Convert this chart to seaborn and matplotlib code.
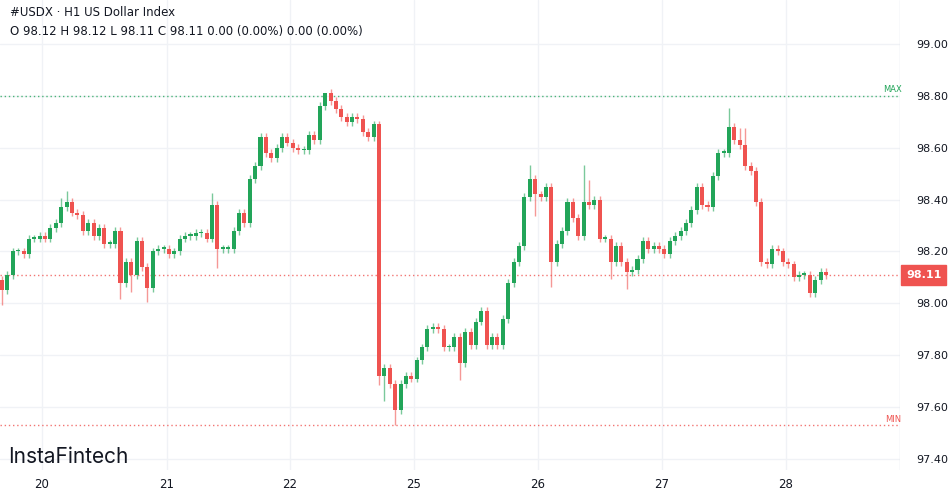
import numpy as np
import pandas as pd
import matplotlib
matplotlib.use("Agg")
import matplotlib.pyplot as plt
import seaborn as sns

closes = [98.05,98.11,98.20,98.20,98.19,98.25,98.25,98.26,98.25,98.29,98.31,98.37,98.39,98.35,98.34,98.28,98.31,98.26,98.29,98.23,
          98.23,98.28,98.08,98.16,98.11,98.24,98.14,98.06,98.20,98.21,98.21,98.19,98.20,98.25,98.26,98.26,98.27,98.27,98.25,98.38,
          98.21,98.21,98.21,98.28,98.35,98.31,98.48,98.53,98.64,98.58,98.56,98.60,98.64,98.62,98.60,98.59,98.59,98.65,98.63,98.76,
          98.81,98.78,98.75,98.72,98.70,98.72,98.71,98.66,98.64,98.69,97.72,
          97.75,97.69,97.59,97.69,97.72,97.71,
          97.78,97.83,97.90,97.91,97.90,97.83,97.83,97.87,97.77,97.89,97.84,97.93,97.97,97.84,97.87,97.84,97.94,98.08,98.16,98.22,
          98.41,98.48,98.42,
          98.41,98.45,98.16,98.23,98.28,98.39,98.33,98.26,98.39,98.38,98.40,98.25,98.25,98.16,98.22,98.16,98.12,98.13,98.17,98.24,
          98.21,98.22,98.21,98.19,98.24,98.26,98.28,98.31,98.36,98.45,98.38,98.37,98.49,98.58,98.58,98.68,98.63,98.61,98.53,98.51,
          98.39,98.16,98.15,98.21,98.20,98.16,98.15,98.10,98.11,98.11,98.04,98.09,98.12,98.11]
first_open = 98.09
# extra wick lengths for notable candles (index: (up, down))
wick_extra = {0: (0.0, 0.04), 11: (0.02, 0.0), 12: (0.03, 0.0), 22: (0.0, 0.05), 24: (0.0, 0.05), 27: (0.0, 0.04),
              39: (0.03, 0.0), 40: (0.0, 0.06), 70: (0.0, 0.02), 71: (0.0, 0.08), 73: (0.0, 0.06),
              85: (0.0, 0.05), 98: (0.04, 0.0), 99: (0.0, 0.07), 102: (0.0, 0.08), 108: (0.13, 0.0),
              109: (0.07, 0.0), 113: (0.0, 0.05), 116: (0.0, 0.05), 135: (0.06, 0.0), 137: (0.03, 0.0), 138: (0.05, 0.0)}
day_labels = ["20", "21", "22", "25", "26", "27", "28"]
day_px = [42, 167, 290, 414, 538, 662, 786]
yticks = [97.40, 97.60, 97.80, 98.00, 98.20, 98.40, 98.60, 98.80, 99.00]
max_price, min_price, last_price = 98.80, 97.53, 98.11

opens = [first_open] + closes[:-1]
highs, lows = [], []
for i, (o, c) in enumerate(zip(opens, closes)):
    up, dn = wick_extra.get(i, (0.0, 0.0))
    highs.append(max(o, c) + 0.015 + up)
    lows.append(min(o, c) - 0.015 - dn)
highs[60] = max_price
lows[73] = min_price
df = pd.DataFrame({"i": np.arange(len(closes)), "o": opens, "h": highs, "l": lows, "c": closes})
df["up"] = df.c >= df.o

sns.set_theme(style="white")
W, H = 952, 494
fig = plt.figure(figsize=(W / 100, H / 100), dpi=100)
ax = fig.add_axes([0, 24 / H, 900 / W, 470 / H])
GREEN, RED = "#22a559", "#ef5350"
n = len(closes)
x0px, x1px = 2, 826
def px2i(p):
    return (p - x0px) / (x1px - x0px) * (n - 1)
ax.set_xlim(px2i(0), px2i(900))
yp = 1.6 / 415
ax.set_ylim(99 - 426 * yp, 99 + 44 * yp)

for p in day_px:
    ax.axvline(px2i(p), color="#f0f2f6", lw=1, zorder=0)
for t in yticks:
    ax.axhline(t, color="#f0f2f6", lw=1, zorder=0)

cols = [GREEN if u else RED for u in df.up]
ax.vlines(df.i, df.l, df.h, colors=cols, lw=1, alpha=0.6, zorder=2)
body = (df.c - df.o).abs().clip(lower=0.006)
ax.bar(df.i, body, bottom=df[["o", "c"]].min(axis=1), width=0.75, color=cols, zorder=3, linewidth=0)

ax.axhline(max_price, color=GREEN, lw=1, ls=(0, (1, 2)), alpha=0.8, zorder=1)
ax.axhline(min_price, color=RED, lw=1, ls=(0, (1, 2)), alpha=0.8, zorder=1)
ax.axhline(last_price, color=RED, lw=1, ls=(0, (1, 2)), alpha=0.8, zorder=1)
ax.text(px2i(893), max_price + 0.006, "MAX", color=GREEN, fontsize=6, ha="center", va="bottom")
ax.text(px2i(893), min_price + 0.006, "MIN", color=RED, fontsize=6, ha="center", va="bottom")

for s in ax.spines.values():
    s.set_visible(False)
ax.set_xticks([px2i(p) for p in day_px])
ax.set_xticklabels(day_labels, fontsize=8.5, color="#131722")
ax.tick_params(axis="x", length=0, pad=6)
ax.yaxis.tick_right()
ax.set_yticks(yticks)
ax.set_yticklabels([f"{t:.2f}" for t in yticks], fontsize=8, color="#131722")
ax.tick_params(axis="y", length=0, pad=12)
ax.text(1.0 + 6 / 900, last_price, f"{last_price:.2f}", transform=ax.get_yaxis_transform(),
        fontsize=8, color="white", fontweight="bold", va="center", ha="left",
        bbox=dict(boxstyle="square,pad=0.45", fc=RED, ec=RED))
ax.axvline(px2i(900), color="#e0e3eb", lw=1)

fig.text(10 / W, 1 - 12 / H, "#USDX · H1 US Dollar Index", fontsize=8.5, color="#131722", va="center")
fig.text(10 / W, 1 - 31 / H, "O 98.12 H 98.12 L 98.11 C 98.11 0.00 (0.00%) 0.00 (0.00%)", fontsize=8.5, color="#131722", va="center")
fig.text(8 / W, 1 - 457 / H, "InstaFintech", fontsize=15, color="#131722", va="center", family="Inter")

fig.savefig("out.png", dpi=100, facecolor="white")
